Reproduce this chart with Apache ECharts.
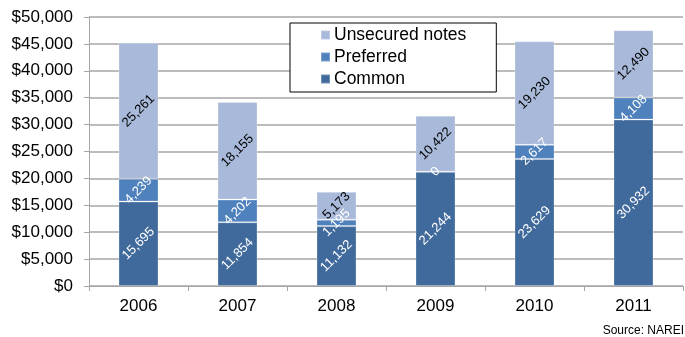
<!DOCTYPE html>
<html>
<head>
<meta charset="utf-8">
<script src="https://cdn.jsdelivr.net/npm/echarts@6/dist/echarts.min.js"></script>
<style>
  html, body { margin: 0; padding: 0; background: #fff; }
  #main { width: 685px; height: 337px; }
</style>
</head>
<body>
<div id="main"></div>
<script>
var years = ['2006', '2007', '2008', '2009', '2010', '2011'];
var common = [15695, 11854, 11132, 21244, 23629, 30932];
var preferred = [4239, 4202, 1195, 0, 2617, 4108];
var unsecured = [25261, 18155, 5173, 10422, 19230, 12490];

var chartDom = document.getElementById('main');
var myChart = echarts.init(chartDom);
var option;

var fmt = function (v) {
  return v.toString().replace(/\B(?=(\d{3})+(?!\d))/g, ',');
};

function segLabel(color) {
  return {
    show: true,
    position: 'inside',
    rotate: 45,
    color: color,
    fontSize: 13,
    fontFamily: 'Liberation Sans, Arial, sans-serif',
    formatter: function (p) { return fmt(p.value); }
  };
}

option = {
  animation: false,
  textStyle: { fontFamily: 'Liberation Sans, Arial, sans-serif' },
  grid: { left: 89, right: 2, top: 17, bottom: 51 },
  legend: {
    data: ['Unsecured notes', 'Preferred', 'Common'],
    orient: 'vertical',
    left: 290,
    top: 23,
    padding: [3, 30, 4, 30],
    itemGap: 4,
    itemWidth: 9,
    itemHeight: 9,
    icon: 'rect',
    backgroundColor: '#fff',
    borderColor: '#000',
    borderWidth: 1,
    textStyle: { fontSize: 17.5, color: '#000', padding: [0, 0, 0, -1] }
  },
  xAxis: {
    type: 'category',
    data: years,
    axisLine: { lineStyle: { color: '#a6a6a6', width: 1 } },
    axisTick: { show: true, length: 5, lineStyle: { color: '#a6a6a6' } },
    axisLabel: { fontSize: 17, color: '#000', margin: 12 }
  },
  yAxis: {
    type: 'value',
    min: 0,
    max: 50000,
    interval: 5000,
    axisLine: { show: true, lineStyle: { color: '#a6a6a6', width: 1 } },
    axisTick: { show: true, length: 5, lineStyle: { color: '#a6a6a6' } },
    axisLabel: {
      fontSize: 17,
      color: '#000',
      margin: 16,
      formatter: function (v) { return '$' + fmt(v); }
    },
    splitLine: { lineStyle: { color: '#a6a6a6', width: 1.5 } }
  },
  series: [
    {
      name: 'Common',
      type: 'bar',
      stack: 'total',
      barWidth: 40,
      data: common,
      itemStyle: { color: '#416a9c', borderColor: 'rgba(255,255,255,0.25)', borderWidth: 1 },
      label: segLabel('#fff')
    },
    {
      name: 'Preferred',
      type: 'bar',
      stack: 'total',
      data: preferred,
      itemStyle: { color: '#4f81bd', borderColor: 'rgba(255,255,255,0.25)', borderWidth: 1 },
      label: segLabel('#fff')
    },
    {
      name: 'Unsecured notes',
      type: 'bar',
      stack: 'total',
      data: unsecured,
      itemStyle: { color: '#a8b9d9', borderColor: 'rgba(255,255,255,0.25)', borderWidth: 1 },
      label: segLabel('#000')
    }
  ],
  graphic: [
    {
      type: 'text',
      right: 1,
      top: 325,
      style: { text: 'Source: NAREI', fontSize: 12, fill: '#000', fontFamily: 'Liberation Sans, Arial, sans-serif' }
    }
  ]
};

option && myChart.setOption(option);
</script>
</body>
</html>
